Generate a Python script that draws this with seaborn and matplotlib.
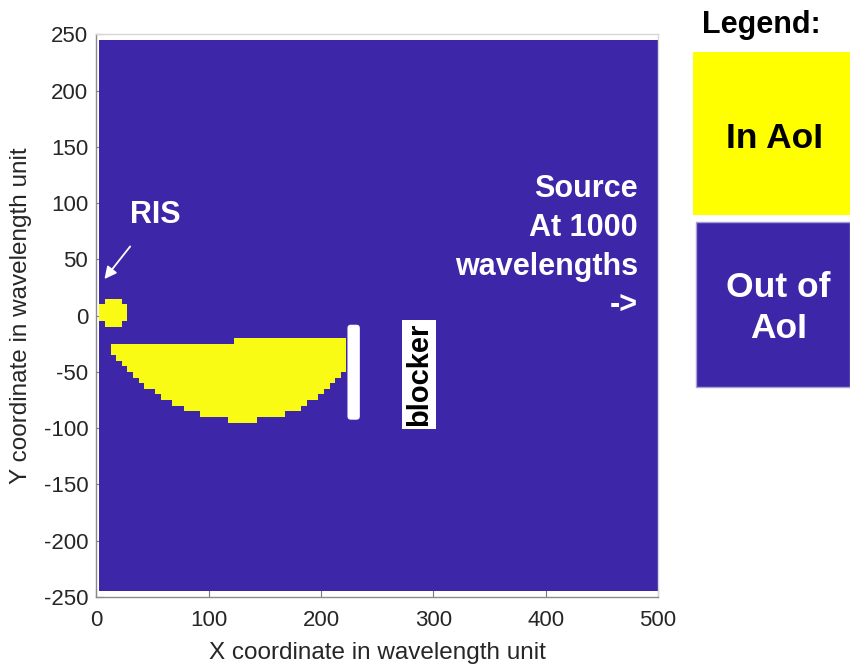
import numpy as np
import pandas as pd
import seaborn as sns
import matplotlib
matplotlib.use("Agg")
import matplotlib.pyplot as plt
from matplotlib.colors import ListedColormap
from matplotlib.patches import FancyBboxPatch, Rectangle

# ---------------------------------------------------------------
# Simulation grid: 5-wavelength cells
# ---------------------------------------------------------------
x_centers = np.arange(5, 505, 5)            # 100 columns, 5 ... 500
y_centers = np.arange(242.5, -245, -5)      # 98 rows, top to bottom

# Area of interest behind the blocker: per column, upper and lower edge
aoi_x = [15, 20, 25, 30, 35, 40, 45, 50, 55, 60, 65, 70, 75, 80,
         85, 90, 95, 100, 105, 110, 115, 120, 125, 130, 135, 140, 145, 150,
         155, 160, 165, 170, 175, 180, 185, 190, 195, 200, 205, 210, 215, 220]
aoi_top = [-25, -25, -25, -25, -25, -25, -25, -25, -25, -25, -25, -25, -25, -25,
           -25, -25, -25, -25, -25, -25, -25, -25, -20, -20, -20, -20, -20, -20,
           -20, -20, -20, -20, -20, -20, -20, -20, -20, -20, -20, -20, -20, -20]
aoi_bottom = [-35, -40, -45, -50, -55, -60, -65, -65, -70, -75, -75, -80, -80, -85,
              -85, -85, -90, -90, -90, -90, -90, -95, -95, -95, -95, -95, -90, -90,
              -90, -90, -90, -85, -85, -85, -80, -75, -75, -70, -65, -60, -55, -50]

# RIS footprint: row centre and horizontal extent
ris_y = [12.5, 7.5, 2.5, -2.5, -7.5]
ris_x_min = [10, 5, 5, 5, 10]
ris_x_max = [20, 25, 25, 25, 20]

# Axis ticks
x_ticks = [0, 100, 200, 300, 400, 500]
y_ticks = [250, 200, 150, 100, 50, 0, -50, -100, -150, -200, -250]

PURPLE = "#3E26A8"
YELLOW = "#F9FB15"

# ---------------------------------------------------------------
# Build the in/out map
# ---------------------------------------------------------------
grid = np.zeros((len(y_centers), len(x_centers)))
for x, top, bot in zip(aoi_x, aoi_top, aoi_bottom):
    c = int(np.where(x_centers == x)[0][0])
    grid[(y_centers < top) & (y_centers > bot), c] = 1
for y, x0, x1 in zip(ris_y, ris_x_min, ris_x_max):
    r = int(np.where(np.isclose(y_centers, y))[0][0])
    grid[r, (x_centers >= x0) & (x_centers <= x1)] = 1
aoi_map = pd.DataFrame(grid, index=y_centers, columns=x_centers)

# heatmap cell coordinates from physical coordinates
def hx(x):
    return (x - 2.5) / 5.0


def hy(y):
    return (245.0 - y) / 5.0


sns.set_theme(style="white")
plt.rcParams["font.family"] = ["Liberation Sans", "DejaVu Sans"]

fig = plt.figure(figsize=(8.5, 6.64), dpi=100)
ax = fig.add_axes([0.1135, 0.1009, 0.6606, 0.8472])

sns.heatmap(aoi_map, ax=ax, cmap=ListedColormap([PURPLE, YELLOW]),
            vmin=0, vmax=1, cbar=False, xticklabels=False, yticklabels=False)

ax.set_xlim(hx(0), hx(500))
ax.set_ylim(hy(-250), hy(250))
ax.set_xticks([hx(t) for t in x_ticks])
ax.set_xticklabels([str(t) for t in x_ticks])
ax.set_yticks([hy(t) for t in y_ticks])
ax.set_yticklabels([str(t) for t in y_ticks], rotation=0)
ax.set_axisbelow(True)
ax.tick_params(axis="both", direction="in", length=6, width=0.8, color="#7a7a7a",
               labelsize=16, labelcolor="#262626", bottom=True, left=True)
ax.tick_params(axis="x", pad=9)
ax.tick_params(axis="y", pad=6)
for side, sp in ax.spines.items():
    sp.set_visible(True)
    sp.set_linewidth(1.0)
    sp.set_color("#8a8a8a" if side in ("left", "bottom") else "#d8d8d8")

ax.set_xlabel("X coordinate in wavelength unit", fontsize=17.5, color="#262626", labelpad=8)
ax.set_ylabel("Y coordinate in wavelength unit", fontsize=17.5, color="#262626", labelpad=8)

# ---------------------------------------------------------------
# Annotation layer in physical coordinates
# ---------------------------------------------------------------
ov = fig.add_axes(ax.get_position(), facecolor="none")
ov.set_xlim(0, 500)
ov.set_ylim(-250, 250)
ov.axis("off")

# blocker wall
ov.add_patch(FancyBboxPatch((223.5, -92.4), 11.0, 84.4,
                            boxstyle="round,pad=0,rounding_size=3",
                            fc="white", ec="none"))
ov.text(287.4, -52.4, "blocker", rotation=90, ha="center", va="center",
        fontsize=21, fontweight="bold", color="black",
        bbox=dict(boxstyle="square,pad=0.1", fc="white", ec="none"))

# RIS label and pointer
ov.text(52.3, 82.4, "RIS", ha="center", va="baseline",
        fontsize=22, fontweight="bold", color="white")
ov.annotate("", xy=(7.1, 32.6), xytext=(30.0, 61.6),
            arrowprops=dict(arrowstyle="-|>,head_length=0.6,head_width=0.3",
                            color="white", lw=1.3, mutation_scale=12,
                            shrinkA=0, shrinkB=0))

# source direction
for line, yb in zip(["Source", "At 1000", "wavelengths", "->"],
                    [105.8, 71.1, 36.4, 1.8]):
    ov.text(482.2, yb, line, ha="right", va="baseline",
            fontsize=22, fontweight="bold", color="white")

# ---------------------------------------------------------------
# Legend panel
# ---------------------------------------------------------------
fig.text(0.8255, 0.9498, "Legend:", ha="left", va="baseline",
         fontsize=22, fontweight="bold", color="black")
fig.add_artist(Rectangle((0.8157, 0.6762), 0.1843, 0.2460, transform=fig.transFigure,
                         fc="#FFFF00", ec="none"))
fig.add_artist(Rectangle((0.8188, 0.4176), 0.1812, 0.2485, transform=fig.transFigure,
                         fc=PURPLE, ec="#a79fd6", lw=1.0))
fig.text(0.9118, 0.7767, "In AoI", ha="center", va="baseline",
         fontsize=25.5, fontweight="bold", color="black")
fig.text(0.9159, 0.5532, "Out of", ha="center", va="baseline",
         fontsize=25.5, fontweight="bold", color="white")
fig.text(0.9159, 0.4905, "AoI", ha="center", va="baseline",
         fontsize=25.5, fontweight="bold", color="white")

fig.savefig("out.png", dpi=100, facecolor="white")
